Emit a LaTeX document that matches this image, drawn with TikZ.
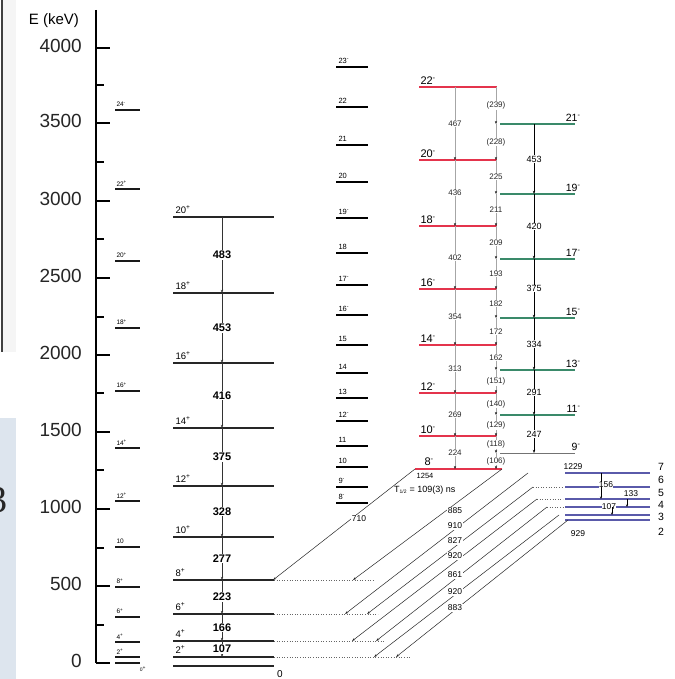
\documentclass[tikz,border=0pt]{standalone}
\usepackage{fontspec}
\setmainfont{Liberation Sans}
\newfontfamily\slidefont{Liberation Serif}
\usetikzlibrary{arrows.meta}
\definecolor{lred}{HTML}{E4344C}
\definecolor{lgreen}{HTML}{3A8A6A}
\definecolor{lblue}{HTML}{5A5AAA}
\definecolor{slidebg}{HTML}{DDE5EE}
\newcommand\spu[1]{\textsuperscript{#1}}
\begin{document}
\begin{tikzpicture}[x=1pt,y=-1pt,
  lev1/.style={line width=1.5pt, draw=black!90},
  levg/.style={line width=1.2pt, draw=black!85},
  lev3/.style={line width=2.2pt, draw=black},
  levr/.style={line width=1.1pt, draw=lred},
  levgr/.style={line width=1.1pt, draw=lgreen},
  levb/.style={line width=1.1pt, draw=lblue},
  gtr/.style={-{Stealth[length=3.2pt,width=2.4pt]}, line width=0.8pt, draw=black!80},
  rtr/.style={-{Stealth[length=3pt,width=2.2pt,black]}, line width=0.7pt, draw=black!35},
  grtr/.style={-{Stealth[length=3.2pt,width=2.4pt]}, line width=0.8pt, draw=black},
  dtr/.style={-{Stealth[length=3.4pt,width=2.2pt]}, line width=0.5pt, draw=black!85},
  btr/.style={-{Stealth[length=2.5pt,width=2pt]}, line width=0.5pt, draw=black},
  dotx/.style={dotted, line width=0.6pt, draw=black!60},
  axn/.style={font=\fontsize{19}{19}\selectfont, anchor=east, inner sep=0, text=black!85},
  sp1/.style={font=\fontsize{6.5}{6.5}\selectfont, anchor=south west, inner sep=0.3pt, text=black},
  spg/.style={font=\fontsize{9.5}{9.5}\selectfont, anchor=south west, inner sep=0.3pt, text=black},
  eg/.style={font=\bfseries\fontsize{11}{11}\selectfont, fill=white, inner sep=0.8pt, text=black},
  sp3/.style={font=\fontsize{7.5}{7.5}\selectfont, anchor=south west, inner sep=0.3pt, text=black},
  spr/.style={font=\fontsize{11}{11}\selectfont, anchor=south west, inner sep=0.3pt, text=black},
  er/.style={font=\fontsize{8}{8}\selectfont, fill=white, inner sep=0.5pt, text=black!85},
  spgr/.style={font=\fontsize{10.5}{10.5}\selectfont, anchor=south east, inner sep=0.3pt, text=black},
  egr/.style={font=\fontsize{9}{9}\selectfont, fill=white, inner sep=0.6pt, text=black},
  spb/.style={font=\fontsize{10.5}{10.5}\selectfont, inner sep=0, text=black},
  eb/.style={font=\fontsize{8.5}{8.5}\selectfont, inner sep=0.3pt, text=black},
  ed/.style={font=\fontsize{8.5}{8.5}\selectfont, fill=white, inner sep=0.5pt, text=black}
]
\useasboundingbox (0,0) rectangle (674,679);
\fill[white] (0,0) rectangle (674,679);

% slide remnants at the left edge
\fill[black!4] (2.5,0) rectangle (16,352);
\fill[black!75] (0.5,0) rectangle (2.5,352);
\fill[slidebg] (0,418) rectangle (16,679);
\node[font=\slidefont\fontsize{38}{38}\selectfont, anchor=east, inner sep=0, text=black!85] (slide3) at (8,500) {3};

% ---------- all level lines first ----------
% column 1
\draw[lev1] \foreach \y in {110,189,261,328,391,448,501,547,587,617,642,657,663} {(115,\y) -- (140,\y)};
% ground band
\draw[levg] \foreach \y in {217,293,363,428,486,537,580,614,641,657,666} {(173,\y) -- (274,\y)};
% column 3
\draw[lev3] \foreach \y in {67,107,145,182,218,253,285,315,345,373,398,421,446,467,487,503} {(336,\y) -- (368,\y)};
% red band
\draw[levr] \foreach \y in {87,160,226,289,345,393,436} {(419,\y) -- (497,\y)};
\draw[draw=lred, line width=2.6pt] (415,469) -- (502,469);
% green band
\draw[levgr] \foreach \y in {124,194,259,318,370,415} {(500,\y) -- (575,\y)};
\draw[line width=1pt, draw=black!55] (500,453) -- (575,453);
% blue band
\draw[levb] \foreach \y in {473,487,499,507,515,520} {(565,\y) -- (650,\y)};

% energy axis
\draw[line width=1.4pt] (96,10) -- (96,663);
\node[font=\fontsize{15}{15}\selectfont, inner sep=0] (axtitle) at (54,21) {E (keV)};
\foreach \v/\y in {4000/48,3500/123,3000/201,2500/278,2000/355,1500/432,1000/509,500/586,0/663}{
  \draw[line width=1.4pt] (96,\y) -- (110,\y);
  \node[axn] (ax\v) at (82,\y-2) {\v};
}
\foreach \y in {85,162,239,317,393,470,548,625}
  \draw[line width=1.2pt] (96,\y) -- (104,\y);

% column 1 labels
\foreach \n/\y/\l in {a/110/24\spu{-},b/189/22\spu{+},c/261/20\spu{+},d/328/18\spu{+},e/391/16\spu{+},f/448/14\spu{+},g/501/12\spu{+},h/547/10,i/587/8\spu{+},j/617/6\spu{+},k/642/4\spu{+},l/657/2\spu{+}}
  \node[sp1] (c1\n) at (116,\y-2.5) {\l};
\node[font=\fontsize{5}{5}\selectfont, inner sep=0] (c1zero) at (143,669) {0\textsuperscript{+}};

% ground band
\foreach \n/\y in {20/217,18/293,16/363,14/428,12/486,10/537,8/580,6/614,4/641,2/657}{
  \coordinate (g\n) at (222,\y);
  \node[spg] (gl\n) at (175,\y-3) {\n\spu{+}};
}
\coordinate (g0) at (222,666);
\node[font=\fontsize{10}{10}\selectfont, inner sep=0] (gzero) at (280,674) {0};
\foreach \a/\b/\e in {20/18/483,18/16/453,16/14/416,14/12/375,12/10/328,10/8/277,8/6/223,6/4/166,4/2/107}
  \draw[gtr] (g\a) -- node[eg] (ge\e) {\e} (g\b);

% dotted extensions of the ground band
\draw[dotx] (274,580) -- (375,580);
\draw[dotx] (274,614) -- (378,614);
\draw[dotx] (274,641) -- (385,641);
\draw[dotx] (274,657) -- (410,657);

% column 3 labels
\foreach \n/\y/\l in {a/67/23\spu{-},b/107/22,c/145/21,d/182/20,e/218/19\spu{-},f/253/18,g/285/17\spu{-},h/315/16\spu{-},i/345/15,j/373/14,k/398/13,l/421/12\spu{-},m/446/11,n/467/10,o/487/9\spu{-},p/503/8\spu{-}}
  \node[sp3] (c3\n) at (338,\y-3) {\l};

% red band labels
\foreach \n/\y in {22/87,20/160,18/226,16/289,14/345,12/393,10/436}{
  \coordinate (r\n) at (455,\y);
  \node[spr] (rl\n) at (420,\y-2) {\n\spu{-}};
}
\coordinate (r8) at (455,469);
\node[spr] (rl8) at (424,466) {8\spu{-}};

% green band labels
\foreach \n/\y in {21/124,19/194,17/259,15/318,13/370,11/415}{
  \coordinate (q\n) at (534,\y);
  \node[spgr] (ql\n) at (581,\y-2) {\n\spu{-}};
}
\coordinate (q9) at (534,453);
\node[spgr] (ql9) at (581,451) {9\spu{-}};

% E2 transitions
\foreach \a/\b/\e in {22/20/467,20/18/436,18/16/402,16/14/354,14/12/313,12/10/269,10/8/224}
  \draw[rtr] (r\a) -- node[er] (re\e) {\e} (r\b);
\foreach \a/\b/\e in {21/19/453,19/17/420,17/15/375,15/13/334,13/11/291,11/9/247}
  \draw[grtr] (q\a) -- node[egr] (qe\e) {\e} (q\b);

% M1 transitions
\coordinate (m) at (496,0);
\foreach \a/\b/\e/\k in {r22/q21/{(239)}/1,q21/r20/{(228)}/2,r20/q19/225/3,q19/r18/211/4,r18/q17/209/5,q17/r16/193/6,r16/q15/182/7,q15/r14/172/8,r14/q13/162/9,q13/r12/{(151)}/10,r12/q11/{(140)}/11,q11/r10/{(129)}/12,r10/q9/{(118)}/13,q9/r8/{(106)}/14}
  \draw[rtr] (\a -| m) -- node[er] (me\k) {\e} (\b -| m);

% blue band labels and transitions
\foreach \n/\y/\ly in {7/473/467,6/487/480,5/499/493,4/507/505,3/515/517,2/520/532}{
  \coordinate (b\n) at (565,\y);
  \node[spb] (bl\n) at (661,\ly) {\n};
}
\node[eb] (b1229) at (573,467) {1229};
\node[eb] (b929) at (578,534) {929};
\draw[btr] (601,473) -- (601,487);
\node[eb, fill=white] (b156) at (606,485) {156};
\draw[btr] (601,487) -- (601,499);
\node[eb] (b133) at (631,494) {133};
\draw[btr] (627,499) -- (627,507);
\node[eb, fill=white] (b107) at (609,507) {107};
\draw[btr] (612,507) -- (612,515);

\draw[dotx] (533,487) -- (563,487);
\draw[dotx] (537,499) -- (563,499);
\draw[dotx] (547,507) -- (563,507);

% interband transitions
\coordinate (U0) at (415,469); \coordinate (L0) at (273,580);
\coordinate (U1) at (502,469); \coordinate (L1) at (353,580);
\coordinate (U2) at (528,473); \coordinate (L2) at (345,614);
\coordinate (U3) at (533,487); \coordinate (L3) at (367,614);
\coordinate (U4) at (537,499); \coordinate (L4) at (352,641);
\coordinate (U5) at (547,507); \coordinate (L5) at (376,641);
\coordinate (U6) at (559,515); \coordinate (L6) at (374,657);
\coordinate (U7) at (568,520); \coordinate (L7) at (396,657);
\foreach \i in {0,...,7} \draw[dtr] (U\i) -- (L\i);
\node[ed] (d710) at (359,519) {710};
\node[ed] (d885) at (455,511) {885};
\node[ed] (d910) at (455,526) {910};
\node[ed] (d827) at (455,541) {827};
\node[ed] (d920a) at (455,556) {920};
\node[ed] (d861) at (455,575) {861};
\node[ed] (d920b) at (455,592) {920};
\node[ed] (d883) at (455,608) {883};
\node[font=\fontsize{7.5}{7.5}\selectfont, inner sep=0] (e1254) at (425,476) {1254};
\node[font=\fontsize{9}{9}\selectfont, anchor=west, inner sep=0] (thalf) at (394,490) {T\textsubscript{\fontsize{5}{5}\selectfont 1/2} = 109(3) ns};
\end{tikzpicture}
\end{document}
